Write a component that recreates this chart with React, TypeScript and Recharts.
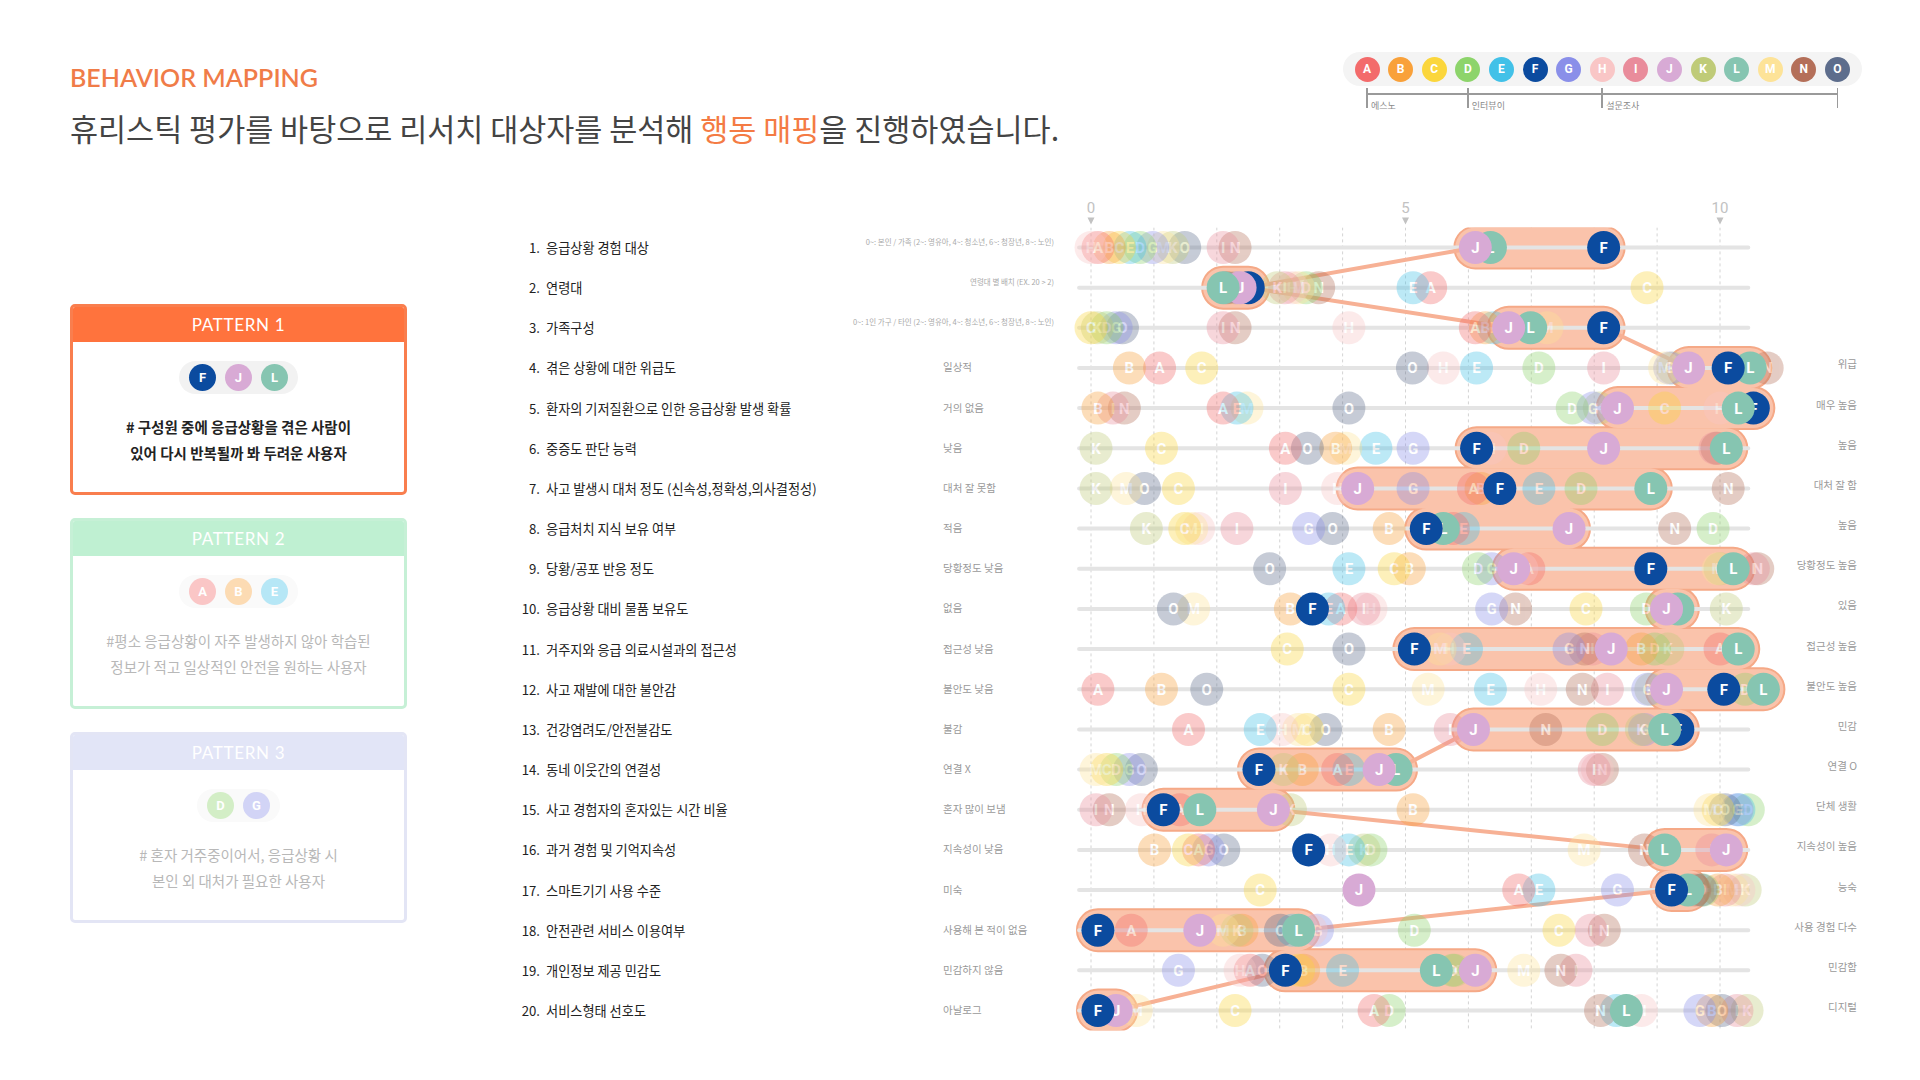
import React from 'react';
import { ComposedChart, Line, Scatter, XAxis, YAxis } from 'recharts';

const KR = '"Noto Sans CJK KR", "Noto Sans", sans-serif';
const LATIN = 'Roboto, "Noto Sans", sans-serif';

// people and their colours
const people = ['A', 'B', 'C', 'D', 'E', 'F', 'G', 'H', 'I', 'J', 'K', 'L', 'M', 'N', 'O'];
const personColors = [
  '#F36B6B', '#F9A13A', '#FBD63C', '#8DD46B', '#42C1E8', '#0B4B9F', '#8A8FE9', '#F9C6C6',
  '#E98C9B', '#D8AAD5', '#BFCB78', '#86C5B1', '#FDE398', '#B46F59', '#5D6D8C',
];
const highlighted = ['F', 'J', 'L'];

const legendGroups = [
  { label: '에스노', from: 0 },
  { label: '인터뷰이', from: 3 },
  { label: '설문조사', from: 7 },
];

const rowTitles = [
  '응급상황 경험 대상',
  '연령대',
  '가족구성',
  '겪은 상황에 대한 위급도',
  '환자의 기저질환으로 인한 응급상황 발생 확률',
  '중증도 판단 능력',
  '사고 발생시 대처 정도 (신속성,정확성,의사결정성)',
  '응급처치 지식 보유 여부',
  '당황/공포 반응 정도',
  '응급상황 대비 물품 보유도',
  '거주지와 응급 의료시설과의 접근성',
  '사고 재발에 대한 불안감',
  '건강염려도/안전불감도',
  '동네 이웃간의 연결성',
  '사고 경험자의 혼자있는 시간 비율',
  '과거 경험 및 기억지속성',
  '스마트기기 사용 수준',
  '안전관련 서비스 이용여부',
  '개인정보 제공 민감도',
  '서비스형태 선호도',
];

const rowNotes = [
  '0~: 본인 / 가족 (2~: 영유아, 4~: 청소년, 6~: 청장년, 8~: 노인)',
  '연령대 별 배치 (EX. 20 > 2)',
  '0~: 1인 가구 / 타인 (2~: 영유아, 4~: 청소년, 6~: 청장년, 8~: 노인)',
];

const lowLabels = [
  '', '', '', '일상적', '거의 없음', '낮음', '대처 잘 못함', '적음', '당황정도 낮음', '없음',
  '접근성 낮음', '불안도 낮음', '불감', '연결 X', '혼자 많이 보냄', '지속성이 낮음', '미숙',
  '사용해 본 적이 없음', '민감하지 않음', '아날로그',
];

const highLabels = [
  '', '', '', '위급', '매우 높음', '높음', '대처 잘 함', '높음', '당황정도 높음', '있음',
  '접근성 높음', '불안도 높음', '민감', '연결 O', '단체 생활', '지속성이 높음', '능숙',
  '사용 경험 다수', '민감함', '디지털',
];

// values per row, in the order A..O
const rowValues = [
  [0.11, 0.29, 0.45, 0.78, 0.62, 8.15, 0.98, 0.0, 2.1, 6.11, 1.3, 6.35, 1.15, 2.29, 1.49],
  [5.4, 2.2, 8.84, 3.42, 5.12, 2.5, 2.3, 3.2, 3.08, 2.37, 2.96, 2.1, 3.3, 3.62, 2.15],
  [6.11, 6.27, 0.0, 0.25, 6.4, 8.15, 0.4, 4.1, 2.1, 6.64, 0.1, 6.99, 7.25, 2.29, 0.5],
  [1.09, 0.61, 1.76, 7.12, 6.13, 10.13, 9.2, 5.6, 8.15, 9.5, 9.25, 10.48, 9.12, 10.75, 5.11],
  [2.1, 0.11, 9.12, 7.65, 2.32, 10.53, 7.98, 10.0, 0.35, 8.37, 8.08, 10.29, 2.48, 0.53, 4.1],
  [3.09, 3.89, 1.12, 6.88, 4.53, 6.13, 5.12, 6.35, 9.92, 8.15, 0.08, 10.1, 4.05, 9.95, 3.44],
  [6.08, 6.2, 1.39, 7.79, 7.12, 6.5, 5.12, 3.92, 3.09, 4.24, 0.08, 8.9, 0.56, 10.13, 0.85],
  [5.76, 4.74, 1.49, 9.89, 5.92, 5.33, 3.46, 1.71, 2.32, 7.6, 0.88, 5.6, 1.6, 9.28, 3.84],
  [6.96, 5.06, 4.82, 6.16, 4.1, 8.9, 6.37, 6.85, 10.53, 6.72, 10.0, 10.21, 9.97, 10.6, 2.84],
  [3.97, 3.17, 7.87, 8.83, 3.78, 3.52, 6.37, 4.45, 4.34, 9.15, 10.1, 9.33, 1.63, 6.75, 1.31],
  [10.0, 8.75, 3.12, 8.96, 5.97, 5.14, 7.6, 5.7, 7.97, 8.27, 9.17, 10.29, 5.55, 7.85, 4.1],
  [0.11, 1.12, 4.1, 10.4, 6.35, 10.06, 8.85, 7.15, 8.21, 9.15, 8.9, 10.69, 5.36, 7.81, 1.84],
  [1.55, 4.74, 3.44, 8.13, 2.69, 9.33, 8.8, 3.04, 5.71, 6.08, 8.75, 9.12, 3.3, 7.23, 3.73],
  [3.92, 3.36, 0.25, 0.4, 4.1, 2.67, 0.61, 8.05, 8.0, 4.58, 3.06, 4.85, 0.08, 8.13, 0.8],
  [1.41, 5.12, 9.97, 10.45, 10.3, 1.15, 10.27, 0.8, 0.08, 2.9, 3.17, 1.73, 9.84, 0.29, 10.08],
  [1.71, 1.01, 1.55, 4.45, 4.1, 3.46, 1.87, 3.81, 9.87, 10.1, 4.34, 9.12, 7.84, 8.8, 2.11],
  [6.8, 9.97, 2.69, 9.73, 7.12, 9.23, 8.37, 10.3, 10.08, 4.26, 10.4, 9.49, 10.2, 9.6, 9.7],
  [0.64, 2.4, 7.44, 5.14, 3.2, 0.11, 3.6, 3.5, 7.95, 1.73, 2.32, 3.3, 2.1, 8.16, 3.01],
  [2.53, 3.38, 3.3, 5.75, 4.0, 3.09, 1.39, 2.37, 7.71, 6.11, 5.79, 5.49, 6.88, 7.47, 2.72],
  [4.5, 9.87, 2.29, 4.74, 8.35, 0.11, 9.68, 8.75, 10.27, 0.4, 10.43, 8.51, 0.72, 8.1, 10.03],
];

// pattern 1 band on each row (start, end)
const bands = [
  [6.11, 8.15], [2.1, 2.5], [6.64, 8.15], [9.5, 10.48], [8.37, 10.53],
  [6.13, 10.1], [4.24, 8.9], [5.33, 7.6], [6.72, 10.21], [9.15, 9.33],
  [5.14, 10.29], [9.15, 10.69], [6.08, 9.33], [2.67, 4.85], [1.15, 2.9],
  [9.12, 10.1], [9.23, 9.49], [0.11, 3.3], [3.09, 6.11], [0.11, 0.4],
];

const xTicks = [0, 1, 2, 3, 4, 5, 6, 7, 8, 9, 10];
const xLabels = [0, 5, 10];
const trackRange = [-0.19, 10.45];
const yDomain = [0.5, 20.5];

const patterns = [
  {
    title: 'PATTERN 1', members: ['F', 'J', 'L'], active: true,
    header: '#FF733D', border: '#F97E4E',
    lines: ['# 구성원 중에 응급상황을 겪은 사람이', '있어 다시 반복될까 봐 두려운 사용자'],
  },
  {
    title: 'PATTERN 2', members: ['A', 'B', 'E'], active: false,
    header: '#BFF0D2', border: '#C6F0D6',
    lines: ['#평소 응급상황이 자주 발생하지 않아 학습된', '정보가 적고 일상적인 안전을 원하는 사용자'],
  },
  {
    title: 'PATTERN 3', members: ['D', 'G'], active: false,
    header: '#E2E5F7', border: '#E3E5F5',
    lines: ['# 혼자 거주중이어서, 응급상황 시', '본인 외 대처가 필요한 사용자'],
  },
];

const colorOf = (id: string) => personColors[people.indexOf(id)];

const points = rowValues.flatMap((vals, ri) =>
  vals.map((v, pi) => ({ x: v, y: ri + 1, id: people[pi], color: personColors[pi] }))
);
const fadedPoints = points.filter((p) => !highlighted.includes(p.id)).sort((a, b) => b.x - a.x);
const activePoints = points.filter((p) => highlighted.includes(p.id)).sort((a, b) => b.x - a.x);

// dashed vertical guides at every integer
const guideData = xTicks.flatMap((t) => [
  { x: t, y: yDomain[0] },
  { x: t, y: yDomain[1] },
  { x: t, y: null },
]);

const trackData = rowTitles.flatMap((_, i) => [
  { x: trackRange[0], y: i + 1 },
  { x: trackRange[1], y: i + 1 },
  { x: trackRange[1], y: null },
]);

const bandData = bands.flatMap(([s, e], i) => [
  { x: s, y: i + 1 },
  { x: e, y: i + 1 },
  { x: e, y: null },
]);

const linkData: { x: number; y: number | null }[] = [];
for (let i = 0; i < bands.length - 1; i++) {
  const [a, b] = bands[i];
  const [c, d] = bands[i + 1];
  if (b < c) linkData.push({ x: b, y: i + 1 }, { x: c, y: i + 2 }, { x: c, y: null });
  else if (d < a) linkData.push({ x: a, y: i + 1 }, { x: d, y: i + 2 }, { x: d, y: null });
}

function makeBubble(faded: boolean) {
  return (props: any) => {
    const { cx, cy, payload } = props;
    return (
      <g opacity={faded ? 0.35 : 1}>
        <circle cx={cx} cy={cy} r={16.5} fill={payload.color} />
        <text x={cx} y={cy} dy="0.36em" textAnchor="middle" fill="#fff" fontSize={15}
          fontWeight={700} fontFamily={LATIN}>{payload.id}</text>
      </g>
    );
  };
}

function XTick(props: any) {
  const { x, y, payload } = props;
  if (!xLabels.includes(payload.value)) return <g />;
  return (
    <g>
      <text x={x} y={y - 20} dy="0.35em" textAnchor="middle" fill="#c2c2c2" fontSize={15}
        fontFamily={LATIN}>{payload.value}</text>
      <path d={`M${x - 3.5},${y - 10} L${x + 3.5},${y - 10} L${x},${y - 3} Z`} fill="#c2c2c2" />
    </g>
  );
}

function YTick(props: any) {
  const { y, payload } = props;
  const i = payload.value - 1;
  if (i < 0 || i >= rowTitles.length) return <g />;
  return (
    <g fontFamily={KR}>
      <text x={540} y={y} dominantBaseline="central" textAnchor="end" fontSize={13.2} fill="#222">{`${i + 1}.`}</text>
      <text x={546} y={y} dominantBaseline="central" fontSize={13.2} fill="#222">{rowTitles[i]}</text>
      {rowNotes[i] && (
        <text x={1054} y={y - 6} dominantBaseline="central" textAnchor="end" fontSize={7.5} fill="#aaa">{rowNotes[i]}</text>
      )}
      {lowLabels[i] && (
        <text x={943} y={y - 1} dominantBaseline="central" fontSize={10.5} fill="#9a9a9a">{lowLabels[i]}</text>
      )}
      {highLabels[i] && (
        <text x={1857} y={y - 4} dominantBaseline="central" textAnchor="end" fontSize={10.5} fill="#9a9a9a">{highLabels[i]}</text>
      )}
    </g>
  );
}

function Dot({ id, size, fontSize }: { id: string; size: number; fontSize: number }) {
  return (
    <div style={{
      width: size, height: size, borderRadius: '50%', background: colorOf(id), color: '#fff',
      fontFamily: LATIN, fontWeight: 700, fontSize, display: 'flex', alignItems: 'center',
      justifyContent: 'center', flex: 'none',
    }}>{id}</div>
  );
}

function PatternBox({ p, top }: { p: typeof patterns[number]; top: number }) {
  return (
    <div style={{
      position: 'absolute', left: 70, top, width: 337, height: 191, boxSizing: 'border-box',
      border: `3px solid ${p.border}`, borderRadius: 5, overflow: 'hidden', background: '#fff',
    }}>
      <div style={{
        position: 'absolute', left: 0, top: 0, right: 0, height: 35, background: p.header,
        color: '#fff', fontFamily: 'Lato, "Open Sans", sans-serif', fontSize: 17, letterSpacing: 0.7,
        display: 'flex', alignItems: 'center', justifyContent: 'center',
      }}>{p.title}</div>
      <div style={{
        position: 'absolute', left: 0, right: 0, top: 54, display: 'flex', justifyContent: 'center',
        opacity: p.active ? 1 : 0.38,
      }}>
        <div style={{
          display: 'flex', gap: 9, padding: '3px 10px', background: '#f2f2f2', borderRadius: 17,
        }}>
          {p.members.map((m) => <Dot key={m} id={m} size={27} fontSize={13} />)}
        </div>
      </div>
      <div style={{
        position: 'absolute', left: 0, right: 0, top: 107, textAlign: 'center', fontFamily: KR,
        fontSize: 14.5, lineHeight: '26px', fontWeight: p.active ? 700 : 400,
        color: p.active ? '#222' : '#b8b8b8',
      }}>
        {p.lines.map((l) => <div key={l}>{l}</div>)}
      </div>
    </div>
  );
}

export default function App() {
  const legendX = (i: number) => 1367 + 33.6 * i;
  return (
    <div style={{ position: 'absolute', left: 0, top: 0, width: 1920, height: 1080, background: '#fff', overflow: 'hidden' }}>
      <div style={{
        position: 'absolute', left: 70, top: 64, fontFamily: 'Lato, "Open Sans", sans-serif',
        fontSize: 25, lineHeight: '27px', fontWeight: 600, color: '#F07C48',
      }}>BEHAVIOR MAPPING</div>
      <div style={{
        position: 'absolute', left: 70, top: 111, fontFamily: KR, fontSize: 30.5, lineHeight: '34px',
        color: '#444', whiteSpace: 'nowrap',
      }}>
        휴리스틱 평가를 바탕으로 리서치 대상자를 분석해 <span style={{ color: '#F47B44' }}>행동 매핑</span>을 진행하였습니다.
      </div>

      {/* legend */}
      <div style={{
        position: 'absolute', left: 1343, top: 52, width: 519, height: 34, borderRadius: 17, background: '#f4f4f4',
      }} />
      {people.map((id, i) => (
        <div key={id} style={{ position: 'absolute', left: legendX(i) - 12.5, top: 56.5 }}>
          <Dot id={id} size={25} fontSize={12} />
        </div>
      ))}
      <div style={{
        position: 'absolute', left: legendX(0), top: 93, width: legendX(14) - legendX(0), height: 1.5, background: '#9a9a9a',
      }} />
      {[...legendGroups.map((g) => g.from), 14].map((idx) => (
        <div key={idx} style={{
          position: 'absolute', left: legendX(idx) - 0.75, top: 88, width: 1.5, height: 20, background: '#9a9a9a',
        }} />
      ))}
      {legendGroups.map((g) => (
        <div key={g.label} style={{
          position: 'absolute', left: legendX(g.from) + 4, top: 100, fontFamily: KR, fontSize: 9,
          lineHeight: '12px', color: '#8a8a8a',
        }}>{g.label}</div>
      ))}

      {patterns.map((p, i) => <PatternBox key={p.title} p={p} top={304 + i * 214} />)}

      <div style={{ position: 'absolute', left: 0, top: 0 }}>
        <ComposedChart width={1920} height={1080} margin={{ top: 197.4, right: 130.8, bottom: 49.4, left: 1009 }}>
          <XAxis type="number" dataKey="x" orientation="top" domain={[-0.35, 11.1]} allowDataOverflow
            ticks={xTicks} interval={0} height={30} axisLine={false} tickLine={false} tickSize={0}
            tickMargin={0} tick={(p: any) => <XTick {...p} />} />
          <YAxis type="number" dataKey="y" domain={yDomain} allowDataOverflow reversed width={60}
            ticks={rowTitles.map((_, i) => i + 1)} interval={0} axisLine={false} tickLine={false}
            tick={(p: any) => <YTick {...p} />} />
          <Line data={guideData} dataKey="y" stroke="#d4d4d4" strokeWidth={1} strokeDasharray="3 3"
            dot={false} activeDot={false} isAnimationActive={false} />
          <Line data={bandData} dataKey="y" stroke="#F5A987" strokeWidth={44} strokeLinecap="round"
            dot={false} activeDot={false} isAnimationActive={false} />
          <Line data={bandData} dataKey="y" stroke="#FAC3AB" strokeWidth={40} strokeLinecap="round"
            dot={false} activeDot={false} isAnimationActive={false} />
          <Line data={trackData} dataKey="y" stroke="#e4e4e4" strokeWidth={4} strokeLinecap="round"
            dot={false} activeDot={false} isAnimationActive={false} />
          <Line data={linkData} dataKey="y" stroke="#F7B195" strokeWidth={4}
            dot={false} activeDot={false} isAnimationActive={false} />
          <Scatter data={fadedPoints} shape={makeBubble(true)} isAnimationActive={false} />
          <Scatter data={activePoints} shape={makeBubble(false)} isAnimationActive={false} />
        </ComposedChart>
      </div>
    </div>
  );
}
